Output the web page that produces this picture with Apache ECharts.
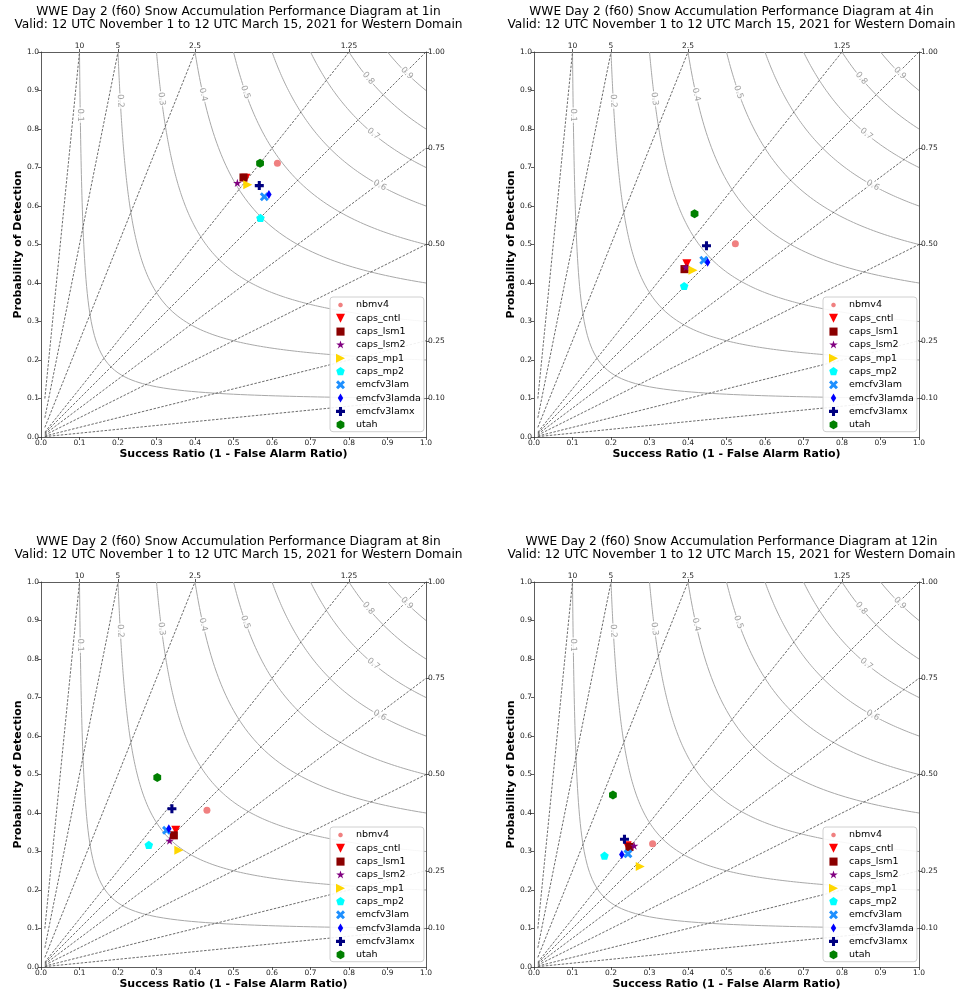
<!DOCTYPE html>
<html><head><meta charset="utf-8">
<script src="https://cdn.jsdelivr.net/npm/echarts@6/dist/echarts.min.js"></script>
<style>html,body{margin:0;padding:0;background:#fff}#c{width:956px;height:993px}</style>
</head><body><div id="c"></div>
<script>
// ---------------- data ----------------
const models = ['nbmv4','caps_cntl','caps_lsm1','caps_lsm2','caps_mp1','caps_mp2','emcfv3lam','emcfv3lamda','emcfv3lamx','utah'];
const thresholds = ['1in','4in','8in','12in'];
const sr1in   = [0.614,0.532,0.526,0.510,0.537,0.570,0.580,0.592,0.567,0.569];
const pod1in  = [0.711,0.672,0.674,0.659,0.655,0.568,0.624,0.630,0.653,0.711];
const sr4in   = [0.523,0.397,0.391,0.395,0.413,0.390,0.441,0.451,0.448,0.417];
const pod4in  = [0.502,0.450,0.436,0.440,0.433,0.391,0.459,0.454,0.497,0.580];
const sr8in   = [0.431,0.350,0.345,0.334,0.358,0.280,0.326,0.332,0.340,0.302];
const pod8in  = [0.407,0.355,0.342,0.327,0.303,0.316,0.355,0.359,0.411,0.492];
const sr12in  = [0.308,0.242,0.248,0.260,0.276,0.183,0.244,0.228,0.235,0.205];
const pod12in = [0.320,0.315,0.312,0.314,0.261,0.288,0.294,0.292,0.332,0.447];
const csiLevels  = [0.1,0.2,0.3,0.4,0.5,0.6,0.7,0.8,0.9];
const csiLabelSR = [0.102,0.206,0.313,0.421,0.531,0.880,0.863,0.850,0.950];
const biasLevels = [0.1,0.25,0.5,0.75,1,1.25,2.5,5,10];
const topTickLabels   = ['10','5','2.5','1.25'];
const rightTickLabels = ['1.00','0.75','0.50','0.25','0.10'];

const panelSR  = [sr1in, sr4in, sr8in, sr12in];
const panelPOD = [pod1in, pod4in, pod8in, pod12in];

// ---------------- marker shapes ----------------
function polyPath(pts){
  let s = 'path://M0,0 M20,20';
  pts.forEach((p,i)=>{ s += (i?' L':' M') + (10+10*p[0]).toFixed(3) + ',' + (10-10*p[1]).toFixed(3); });
  return s + ' Z';
}
function regular(n, r, startDeg, innerR){
  const pts = [];
  const m = innerR ? n*2 : n;
  for (let k=0;k<m;k++){
    const a = (startDeg + k*360/m) * Math.PI/180;
    const rr = innerR ? (k%2 ? innerR : r) : r;
    pts.push([rr*Math.cos(a), rr*Math.sin(a)]);
  }
  return pts;
}
function plusPts(w, rotDeg){
  let pts = [[w,1],[w,w],[1,w],[1,-w],[w,-w],[w,-1],[-w,-1],[-w,-w],[-1,-w],[-1,w],[-w,w],[-w,1]];
  if (rotDeg){
    const a = rotDeg*Math.PI/180;
    pts = pts.map(p=>[p[0]*Math.cos(a)-p[1]*Math.sin(a), p[0]*Math.sin(a)+p[1]*Math.cos(a)]);
    const mx = Math.max(...pts.map(p=>Math.max(Math.abs(p[0]),Math.abs(p[1]))));
    pts = pts.map(p=>[p[0]/mx, p[1]/mx]);
  }
  return pts;
}
const SYM = {
  circleSmall: polyPath(regular(28, 0.5, 90)),
  triDown: polyPath([[-1,1],[1,1],[0,-1]]),
  square: polyPath([[-0.9,-0.9],[0.9,-0.9],[0.9,0.9],[-0.9,0.9]]),
  star: polyPath(regular(5, 1, 90, 0.381966)),
  triRight: polyPath([[-1,1],[1,0],[-1,-1]]),
  pentagon: polyPath(regular(5, 1, 90)),
  xfill: polyPath(plusPts(0.3, 45)),
  thinDiamond: polyPath([[0,1],[0.6,0],[0,-1],[-0.6,0]]),
  plus: polyPath(plusPts(0.34, 0)),
  hexagon: polyPath(regular(6, 1, 90))
};
const modelSymbol = ['circle', SYM.triDown, SYM.square, SYM.star, SYM.triRight, SYM.pentagon, SYM.xfill, SYM.thinDiamond, SYM.plus, SYM.hexagon];
const legendIcon  = [SYM.circleSmall, SYM.triDown, SYM.square, SYM.star, SYM.triRight, SYM.pentagon, SYM.xfill, SYM.thinDiamond, SYM.plus, SYM.hexagon];
const modelColor  = ['#F08080','#FF0000','#8B0000','#800080','#FFD700','#00FFFF','#1E90FF','#0000FF','#000080','#008000'];
const modelSize   = [7,9,9,9,9,9,9,9,9,9];

// ---------------- layout ----------------
const FONT = 'DejaVu Sans';
const panels = [
  {left:41, top:52}, {left:534, top:52}, {left:41, top:582}, {left:534, top:582}
];
const W = 385, H = 385;

const topVals = topTickLabels.map(t => 1/parseFloat(t));
const rightVals = rightTickLabels.map(t => parseFloat(t));

function csiCurve(c){
  const pts = []; const sm = 2*c/(1+c); const N = 90;
  for (let k=0;k<=N;k++){ const p = 1-(1-sm)*k/N; const s = 1/(1/c+1-1/p); pts.push([s,p]); }
  for (let k=1;k<=N;k++){ const s = sm+(1-sm)*k/N; const p = 1/(1/c+1-1/s); pts.push([s,p]); }
  return pts;
}

const option = {
  animation: false,
  backgroundColor: '#fff',
  textStyle: {fontFamily: FONT},
  title: [], grid: [], xAxis: [], yAxis: [], legend: [], series: []
};

const axisLineStyle = {show:true, onZero:false, lineStyle:{color:'#333', width:0.8}};
const tickStyle = {show:true, inside:false, length:3, lineStyle:{color:'#333', width:0.8}};
const lblStyle = {fontSize:7.5, color:'#222', fontFamily:FONT};

panels.forEach((pn, i) => {
  option.title.push({
    text: 'WWE Day 2 (f60) Snow Accumulation Performance Diagram at ' + thresholds[i] +
          '\nValid: 12 UTC November 1 to 12 UTC March 15, 2021 for Western Domain',
    left: pn.left + W/2, top: pn.top - 52, textAlign: 'center',
    textStyle: {fontSize: 12.2, fontWeight: 'normal', color: '#000', fontFamily: FONT, lineHeight: 13.5}
  });
  option.grid.push({left: pn.left, top: pn.top, width: W, height: H, containLabel: false});
  // bottom x
  option.xAxis.push({
    gridIndex: i, type: 'value', position: 'bottom', min: 0, max: 1, interval: 0.1,
    name: 'Success Ratio (1 - False Alarm Ratio)', nameLocation: 'middle', nameGap: 12,
    nameTextStyle: {fontSize: 11, fontWeight: 'bold', color: '#000', fontFamily: FONT},
    axisLine: axisLineStyle, axisTick: tickStyle, splitLine: {show:false},
    axisLabel: Object.assign({margin: 2, formatter: v => v.toFixed(1)}, lblStyle)
  });
  // top x (bias labels)
  option.xAxis.push({
    gridIndex: i, type: 'value', position: 'top', min: 0, max: 1,
    axisLine: axisLineStyle, splitLine: {show:false},
    axisTick: Object.assign({customValues: topVals}, tickStyle),
    axisLabel: Object.assign({margin: 2, customValues: topVals,
      formatter: v => { const k = topVals.findIndex(t => Math.abs(t-v) < 1e-6); return k >= 0 ? topTickLabels[k] : ''; }}, lblStyle)
  });
  // left y
  option.yAxis.push({
    gridIndex: i, type: 'value', position: 'left', min: 0, max: 1, interval: 0.1,
    name: 'Probability of Detection', nameLocation: 'middle', nameGap: 17,
    nameTextStyle: {fontSize: 11, fontWeight: 'bold', color: '#000', fontFamily: FONT},
    axisLine: axisLineStyle, axisTick: tickStyle, splitLine: {show:false},
    axisLabel: Object.assign({margin: 2, formatter: v => v.toFixed(1)}, lblStyle)
  });
  // right y (bias labels)
  option.yAxis.push({
    gridIndex: i, type: 'value', position: 'right', min: 0, max: 1,
    axisLine: axisLineStyle, splitLine: {show:false},
    axisTick: Object.assign({customValues: rightVals}, tickStyle),
    axisLabel: Object.assign({margin: 2, customValues: rightVals,
      formatter: v => { const k = rightVals.findIndex(t => Math.abs(t-v) < 1e-6); return k >= 0 ? rightTickLabels[k] : ''; }}, lblStyle)
  });

  const xi = 2*i, yi = 2*i;
  // CSI contours
  csiLevels.forEach(c => {
    option.series.push({
      type: 'line', xAxisIndex: xi, yAxisIndex: yi, data: csiCurve(c), showSymbol: false, symbol: 'none',
      silent: true, z: 1, lineStyle: {color: '#a8a8a8', width: 1}
    });
  });
  // bias lines
  biasLevels.forEach(b => {
    const end = b >= 1 ? [1/b, 1] : [1, b];
    option.series.push({
      type: 'line', xAxisIndex: xi, yAxisIndex: yi, data: [[0.01, 0.01*b], end], showSymbol: false, symbol: 'none',
      silent: true, z: 1, lineStyle: {color: '#444', width: 0.8, type: [2.5, 1.5]}
    });
  });
  // CSI labels
  option.series.push({
    type: 'scatter', xAxisIndex: xi, yAxisIndex: yi, symbolSize: 0, silent: true, z: 2,
    data: csiLevels.map((c, k) => {
      const s = csiLabelSR[k]; const p = 1/(1/c+1-1/s);
      const rot = Math.atan(-(p*p)/(s*s)) * 180/Math.PI;
      return {value: [s, p], label: {show: true, position: 'inside', formatter: String(c), rotate: rot,
        color: '#888', fontSize: 8.5, fontFamily: FONT, backgroundColor: '#fff', padding: [0, 1]}};
    })
  });
  // model markers
  models.forEach((m, k) => {
    option.series.push({
      type: 'scatter', name: m, xAxisIndex: xi, yAxisIndex: yi, z: 3,
      symbol: modelSymbol[k], symbolSize: modelSize[k], symbolKeepAspect: true,
      itemStyle: {color: modelColor[k], opacity: 1},
      data: [[panelSR[i][k], panelPOD[i][k]]]
    });
  });
  // legend
  option.legend.push({
    orient: 'vertical', left: pn.left + 289, top: pn.top + 245,
    data: models.map((m, k) => ({name: m, icon: legendIcon[k]})),
    itemWidth: 9, itemHeight: 9, itemGap: 3.3, selectedMode: false,
    padding: [3, 3, 2, 6],
    backgroundColor: 'rgba(255,255,255,0.9)', borderColor: '#d0d0d0', borderWidth: 1, borderRadius: 3,
    textStyle: {fontSize: 9.5, color: '#000', fontFamily: FONT, lineHeight: 9, padding: [0, 0, 0, 6]}
  });
});

const chart = echarts.init(document.getElementById('c'), null, {renderer: 'canvas'});
chart.setOption(option);
</script>
</body></html>
